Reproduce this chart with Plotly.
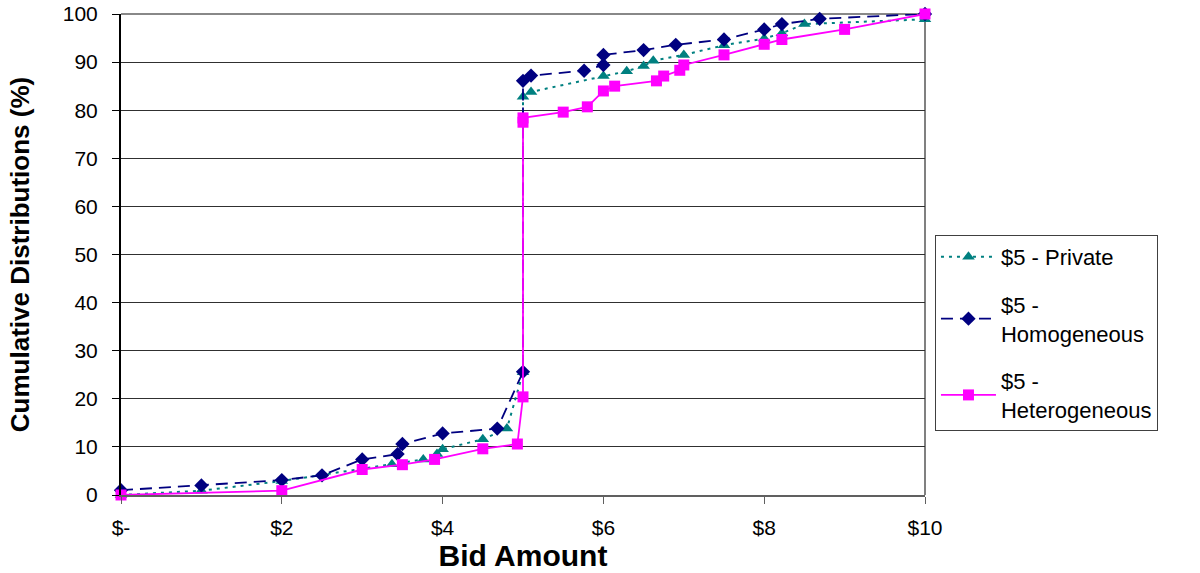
import plotly.graph_objects as go

# ---- data ----
private_x = [0, 1, 2, 3.37, 3.76, 3.93, 4.0, 4.5, 4.8, 5.0, 5.0, 5.1, 6.0, 6.29, 6.5, 6.62, 7.0, 7.5, 8.0, 8.22, 8.5, 10]
private_y = [0, 0.9, 2.9, 6.4, 7.4, 8.5, 9.5, 11.6, 13.8, 25.5, 82.8, 83.8, 87.1, 88.1, 89.2, 90.3, 91.5, 93.5, 94.9, 96.0, 97.9, 98.9]

homog_x = [0, 1, 2, 2.5, 3.0, 3.44, 3.5, 4.0, 4.68, 5.0, 5.0, 5.1, 5.76, 6.0, 6.0, 6.5, 6.9, 7.5, 8.0, 8.22, 8.69, 10]
homog_y = [1.0, 2.0, 3.1, 4.1, 7.4, 8.5, 10.6, 12.8, 13.8, 25.6, 86.1, 87.2, 88.2, 89.4, 91.5, 92.5, 93.6, 94.7, 96.8, 97.9, 99.0, 100]

hetero_x = [0, 2, 3, 3.5, 3.9, 4.5, 4.93, 5.0, 5.0, 5.0, 5.5, 5.8, 6.0, 6.14, 6.66, 6.75, 6.95, 7.0, 7.5, 8.0, 8.22, 9.0, 10]
hetero_y = [0, 0.9, 5.3, 6.3, 7.4, 9.6, 10.6, 20.4, 77.5, 78.4, 79.6, 80.7, 84.0, 85.0, 86.1, 87.1, 88.3, 89.4, 91.5, 93.7, 94.7, 96.8, 100]

series_names = ["$5 - Private", "$5 -<br>Homogeneous", "$5 -<br>Heterogeneous"]

x_tickvals = [0, 2, 4, 6, 8, 10]
x_ticktext = ["$-", "$2", "$4", "$6", "$8", "$10"]
y_tickvals = [0, 10, 20, 30, 40, 50, 60, 70, 80, 90, 100]

FONT = "Arial, Liberation Sans, Helvetica, sans-serif"

fig = go.Figure()
fig.add_trace(go.Scatter(
    x=private_x, y=private_y, name=series_names[0], mode="lines+markers",
    line=dict(color="#008080", width=2, dash="3px,5px"),
    marker=dict(symbol="triangle-up", size=11, color="#008080"),
    cliponaxis=False, legendgroup="a"))
fig.add_trace(go.Scatter(
    x=homog_x, y=homog_y, name=series_names[1], mode="lines+markers",
    line=dict(color="#000080", width=1.8, dash="12px,7px"),
    marker=dict(symbol="diamond", size=11, color="#000080"),
    cliponaxis=False, legendgroup="b"))
fig.add_trace(go.Scatter(
    x=hetero_x, y=hetero_y, name=series_names[2], mode="lines+markers",
    line=dict(color="#FF00FF", width=1.8),
    marker=dict(symbol="square", size=11, color="#FF00FF"),
    cliponaxis=False, legendgroup="c"))

# right and top border of the plot area
fig.add_shape(type="line", xref="paper", yref="paper", x0=1, x1=1, y0=0, y1=1,
              line=dict(color="#808080", width=2), layer="below")
fig.add_shape(type="line", xref="paper", yref="paper", x0=0, x1=1, y0=1, y1=1,
              line=dict(color="#606060", width=1.5), layer="below")

fig.update_layout(
    width=1200, height=573,
    margin=dict(l=121, r=275, t=14, b=78, autoexpand=False),
    paper_bgcolor="white", plot_bgcolor="white",
    font=dict(family=FONT, size=21, color="black"),
    showlegend=True,
    legend=dict(
        x=1.0124, xanchor="left", y=0.5405, yanchor="top",
        bordercolor="#404040", borderwidth=1, bgcolor="white",
        font=dict(family=FONT, size=22, color="black"),
        traceorder="grouped", tracegroupgap=16, itemwidth=55,
    ),
    xaxis=dict(
        range=[0, 10], tickvals=x_tickvals, ticktext=x_ticktext,
        showgrid=False, zeroline=False, automargin=False,
        showline=True, linecolor="#606060", linewidth=2,
        ticks="outside", ticklen=7, tickcolor="#606060", tickwidth=1,
        ticklabelstandoff=6, ticklabeloverflow="allow",
        tickfont=dict(family=FONT, size=21),
        title=dict(text="<b>Bid Amount</b>", font=dict(family=FONT, size=30), standoff=4),
    ),
    yaxis=dict(
        range=[0, 100], tickvals=y_tickvals,
        showgrid=True, gridcolor="#303030", gridwidth=1,
        zeroline=False, automargin=False,
        showline=True, linecolor="black", linewidth=2,
        ticks="outside", ticklen=7, tickcolor="black", tickwidth=1,
        ticklabelstandoff=10, ticklabeloverflow="allow",
        tickfont=dict(family=FONT, size=21),
        title=dict(text="<b>Cumulative Distributions (%)</b>", font=dict(family=FONT, size=26), standoff=26),
    ),
)

fig.write_html("out.html", config={"displayModeBar": False},
               post_script="document.body.style.margin='0px';")
